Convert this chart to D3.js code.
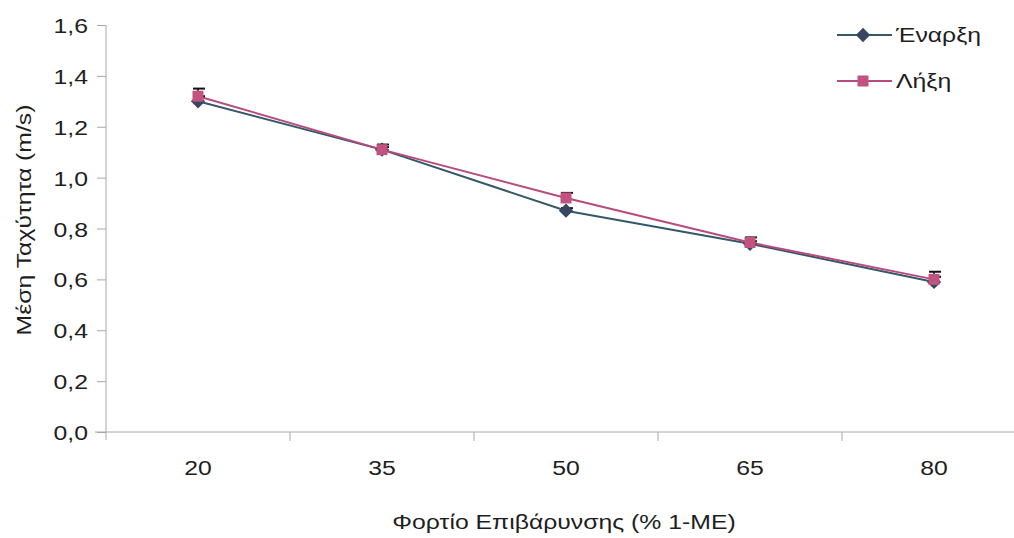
<!DOCTYPE html>
<html><head><meta charset="utf-8">
<script src="https://cdn.jsdelivr.net/npm/d3@7"></script>
<style>body{margin:0;background:#fff;} svg{display:block;}</style>
</head><body>
<svg id="c" width="1014" height="538"></svg>
<script>
const categories = ["20","35","50","65","80"];
const seriesNames = ["Έναρξη","Λήξη"];
const enarxi = [1.30, 1.11, 0.87, 0.74, 0.59];
const lixi = [1.32, 1.11, 0.92, 0.745, 0.60];
const enarxiErr = [0.02, 0.01, 0.01, 0.01, 0.02];
const lixiErr = [0.03, 0.02, 0.02, 0.02, 0.03];
const yTicks = [0,0.2,0.4,0.6,0.8,1.0,1.2,1.4,1.6];
const yTitle = "Μέση Ταχύτητα (m/s)";
const xTitle = "Φορτίο Επιβάρυνσης (% 1-ΜΕ)";

const svg = d3.select("#c");
const font = "'Liberation Sans', Arial, sans-serif";
const fs = "21px";
const sx = 1.18;
const txtCol = "#1e1e1e";
const x = d3.scaleBand().domain(categories).range([106, 1026]);
const y = d3.scaleLinear().domain([0,1.6]).range([432, 25]);
const axisColor = "#a8a8a8";

// Y axis
const ya = svg.append("g").attr("transform","translate(106,0)")
  .call(d3.axisLeft(y).tickValues(yTicks).tickSize(9)
    .tickFormat(d => d.toFixed(1).replace(".", ",")));
ya.select(".domain").attr("stroke", axisColor).attr("d","M0,25V440");
ya.selectAll(".tick line").attr("stroke", axisColor);
ya.selectAll(".tick text").attr("font-family",font).attr("font-size",fs).attr("fill",txtCol)
  .attr("x",0).attr("dy","0.36em").attr("transform",`translate(-18,0) scale(${sx},1)`);

// X axis
const xa = svg.append("g").attr("transform","translate(0,432)")
  .call(d3.axisBottom(x).tickSize(0));
xa.select(".domain").attr("stroke", axisColor).attr("d","M95,0H1026");
xa.selectAll(".tick text").attr("font-family",font).attr("font-size",fs).attr("fill",txtCol)
  .attr("y",0).attr("dy",0).attr("transform",`translate(0,43) scale(${sx},1)`);
svg.append("g").selectAll("line").data(categories.slice(1)).join("line")
  .attr("x1", d=>x(d)).attr("x2", d=>x(d)).attr("y1",432).attr("y2",441)
  .attr("stroke", axisColor);

// Titles
svg.append("text").attr("transform",`translate(564,529) scale(${sx},1)`).attr("text-anchor","middle")
  .attr("font-family",font).attr("font-size",fs).attr("fill",txtCol).text(xTitle);
svg.append("text").attr("transform",`translate(31,220) rotate(-90) scale(${sx},1)`).attr("text-anchor","middle")
  .attr("font-family",font).attr("font-size",fs).attr("fill",txtCol).text(yTitle);

const cx = d => x(d) + x.bandwidth()/2;
const series = [
  {name: seriesNames[0], vals: enarxi, err: enarxiErr, line:"#34596a", fill:"#36475f", shape:"diamond"},
  {name: seriesNames[1], vals: lixi, err: lixiErr, line:"#b84a7e", fill:"#c2527f", shape:"square"}
];
const line = d3.line().x((d,i)=>cx(categories[i])).y(d=>y(d));
const symOf = s => d3.symbol().type(s.shape==="diamond"? d3.symbolDiamond2 : d3.symbolSquare).size(s.shape==="diamond"?130:121);

series.forEach(s => {
  svg.append("path").attr("d", line(s.vals)).attr("fill","none")
    .attr("stroke", s.line).attr("stroke-width",2);
});
series.forEach(s => {
  const g = svg.append("g");
  g.selectAll("line.e").data(s.vals).join("line")
    .attr("x1",(d,i)=>cx(categories[i])).attr("x2",(d,i)=>cx(categories[i]))
    .attr("y1",d=>y(d)).attr("y2",(d,i)=>y(d+s.err[i])).attr("stroke","#111").attr("stroke-width",1.5);
  g.selectAll("line.c").data(s.vals).join("line")
    .attr("x1",(d,i)=>cx(categories[i])-5).attr("x2",(d,i)=>cx(categories[i])+7)
    .attr("y1",(d,i)=>y(d+s.err[i])).attr("y2",(d,i)=>y(d+s.err[i])).attr("stroke","#111").attr("stroke-width",2);
  g.selectAll("path.m").data(s.vals).join("path")
    .attr("transform",(d,i)=>`translate(${cx(categories[i])},${y(d)})`)
    .attr("d", symOf(s)()).attr("fill", s.fill);
});

// Legend
const leg = svg.append("g");
series.forEach((s,i) => {
  const ly = 35 + i*46;
  leg.append("line").attr("x1",837).attr("x2",892).attr("y1",ly).attr("y2",ly)
    .attr("stroke", s.line).attr("stroke-width",2);
  leg.append("path").attr("transform",`translate(863,${ly})`).attr("d",symOf(s)()).attr("fill",s.fill);
  leg.append("text").attr("transform",`translate(896,${ly+7}) scale(${sx},1)`).attr("font-family",font).attr("font-size",fs)
    .attr("fill",txtCol).text(s.name);
});
</script>
</body></html>
